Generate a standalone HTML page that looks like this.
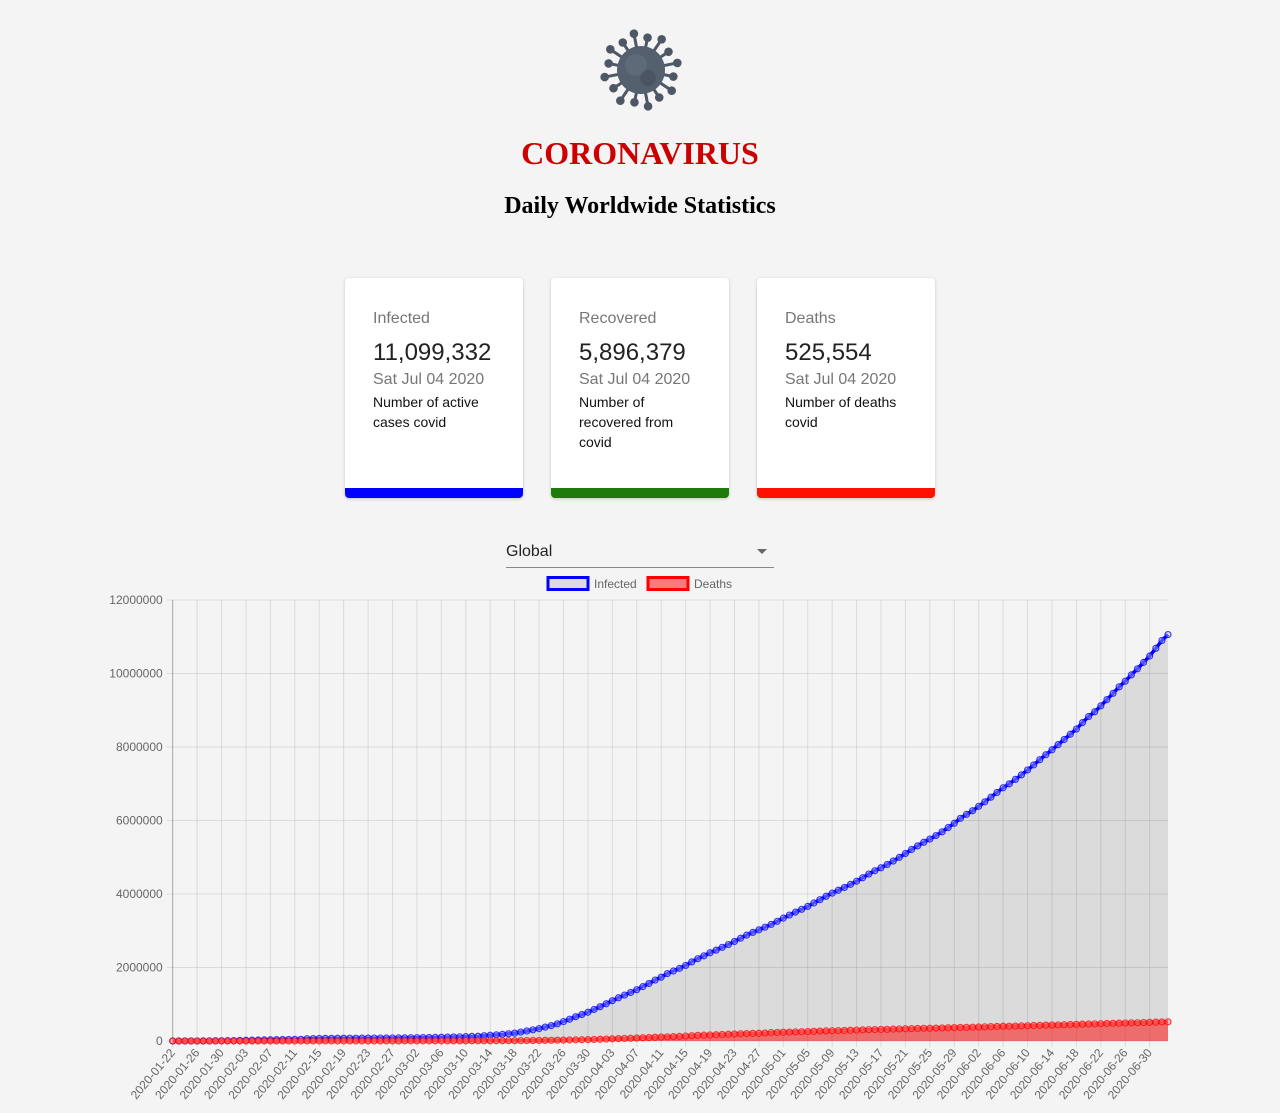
<!DOCTYPE html>
<html><head><meta charset="utf-8">
<style>
body{margin:0;background:#f4f4f4;width:1280px;height:1113px;overflow:hidden;font-family:"Liberation Sans",sans-serif;position:relative}
.abs{position:absolute}
h1{position:absolute;left:0;width:1280px;top:133px;margin:0;text-align:center;font-family:"Liberation Serif",serif;font-weight:bold;font-size:32px;color:#cc0000;line-height:40px}
h2{position:absolute;left:0;width:1280px;top:191px;margin:0;text-align:center;font-family:"Liberation Serif",serif;font-weight:bold;font-size:24px;color:#000;line-height:30px}
.card{position:absolute;top:278px;width:178px;height:220px;background:#fff;border-radius:4px;box-shadow:0 1px 3px rgba(0,0,0,.2);overflow:hidden}
.card .t{position:absolute;left:28px;top:32px;font-size:16px;color:#777}
.card .n{position:absolute;left:28px;top:61px;font-size:24px;color:#222}
.card .d{position:absolute;left:28px;top:93px;font-size:16px;color:#777}
.card .s{position:absolute;left:28px;top:114px;width:125px;font-size:14px;line-height:20px;color:#111}
.card .b{position:absolute;left:0;bottom:0;width:100%;height:10px}
</style></head><body>
<svg class="abs" style="left:598px;top:28px" width="86" height="84" viewBox="0 0 86 84">
<g stroke="#4e5766" stroke-width="3" stroke-linecap="round" fill="#4e5766" id="sp"></g>
<circle cx="43" cy="42" r="24" fill="#55606f"/>
<circle cx="38" cy="37" r="11" fill="#6a7483" opacity=".5"/>
<circle cx="50" cy="50" r="8" fill="#404856" opacity=".5"/>
</svg>
<h1>CORONAVIRUS</h1>
<h2>Daily Worldwide Statistics</h2>

<div class="card" style="left:345px">
<div class="t">Infected</div><div class="n">11,099,332</div><div class="d">Sat Jul 04 2020</div><div class="s">Number of active cases covid</div><div class="b" style="background:#0000ff"></div></div>
<div class="card" style="left:551px">
<div class="t">Recovered</div><div class="n">5,896,379</div><div class="d">Sat Jul 04 2020</div><div class="s">Number of recovered from covid</div><div class="b" style="background:#1e7a0a"></div></div>
<div class="card" style="left:757px">
<div class="t">Deaths</div><div class="n">525,554</div><div class="d">Sat Jul 04 2020</div><div class="s">Number of deaths covid</div><div class="b" style="background:#ff1100"></div></div>

<div class="abs" style="left:506px;top:538px;width:268px;height:29px;border-bottom:1px solid #888">
<span style="position:absolute;left:0;top:5px;font-size:16px;color:#222">Global</span>
<span style="position:absolute;right:7px;top:11px;width:0;height:0;border-left:5px solid transparent;border-right:5px solid transparent;border-top:5px solid #666"></span>
</div>

<svg id="chart" class="abs" style="left:0;top:570px" width="1280" height="543"></svg>

<script>
const sp=document.getElementById('sp');
for(let i=0;i<16;i++){const a=i/16*Math.PI*2+0.2,r1=22,r2=i%2?37:33;
const x1=43+Math.cos(a)*r1,y1=42+Math.sin(a)*r1,x2=43+Math.cos(a)*r2,y2=42+Math.sin(a)*r2;
sp.innerHTML+=`<line x1="${x1}" y1="${y1}" x2="${x2}" y2="${y2}"/><circle cx="${x2}" cy="${y2}" r="2.8"/>`;}
</script>
<script>
const startDate="2020-01-22";
const infected=[555,654,941,1434,2118,2927,5578,6166,8234,9927,
12038,16787,19881,23892,27635,30794,34391,37120,40150,42762,44802,45221,60368,66885,69030,71224,73258,75136,75639,76197,76819,78572,78958,79561,80406,81388,82746,84112,86011,
88369,90306,92840,95120,97886,101801,105847,109821,113590,118620,125875,128352,145205,156101,167454,181574,197102,214821,242570,272208,304507,336953,378231,418045,467653,529591,593291,660706,720117,782365,857487,
932605,1013466,1095917,1176060,1249754,1321481,1396476,1479804,1565278,1657526,1735650,1834721,1904838,1976191,2056054,2152437,2240190,2317759,2401378,2472259,2549123,2624074,2708403,2795989,2881140,2955033,3023722,3097229,3172287,3256846,
3343777,3427343,3506729,3583055,3662691,3755341,3845718,3938064,4024009,4101699,4177502,4261747,4347018,4442163,4542347,4634068,4713620,4801943,4897492,4996472,5102424,5210817,5310362,5407613,5495061,5589626,5691790,5808946,5924275,6059017,6166978,
6265852,6386353,6508635,6632985,6764071,6891031,6997230,7118523,7242235,7375433,7512442,7654725,7790735,7924156,8063990,8205081,8347121,8489232,8664001,8829042,8958690,9120111,9290101,9461493,9637071,9790993,9961962,10127838,10302867,10475816,
10684567,10898000,11060000];
const deaths=[17,18,26,42,56,82,131,133,171,213,
259,362,426,492,564,634,719,806,906,1013,1113,1118,1371,1523,1666,1770,1868,2007,2122,2247,2251,2458,2469,2629,2708,2770,2814,2872,2941,
2996,3085,3160,3254,3348,3460,3558,3802,3988,4262,4615,4720,5404,5819,6440,7126,7905,8733,9867,11299,13016,14623,16497,18615,21181,23970,27198,30652,33925,37582,42107,
46809,53190,58787,64606,69374,74565,81865,88338,95455,102525,108502,114090,119481,125983,134177,143800,153822,159510,165044,169985,176583,183027,190858,197159,202846,206544,211167,217153,227638,233388,
238650,243808,247470,251537,257239,263831,269567,274898,279311,282709,286330,291942,297197,302418,307666,311781,315185,318481,323286,328115,332924,338160,342097,345059,346232,350453,355629,360308,364866,369126,372035,
375543,380249,385947,391136,396917,400857,403619,407067,411764,416779,421968,426796,431176,434446,437750,443395,448576,453886,458447,462791,467041,470639,475853,480760,485618,492174,494902,498129,501771,507521,
512713,518000,522000];
const yTicks=[0,2000000,4000000,6000000,8000000,10000000,12000000];
const labels=infected.map((_,i)=>{const d=new Date(Date.UTC(2020,0,22+i));return d.toISOString().slice(0,10);});

const svg=document.getElementById('chart');const NS='http://www.w3.org/2000/svg';
const L=172.7,R=1168,T=30,B=471;
const xS=i=>L+(R-L)*i/(infected.length-1);
const yS=v=>B-(B-T)*v/12000000;
function el(tag,attrs,parent){const e=document.createElementNS(NS,tag);for(const k in attrs)e.setAttribute(k,attrs[k]);(parent||svg).appendChild(e);return e;}
yTicks.forEach(v=>{const g=el('line',{x1:L-6,x2:R,y1:yS(v),y2:yS(v),stroke:'rgba(0,0,0,0.1)'});


const t=el('text',{x:L-10,y:yS(v)+4,'text-anchor':'end','font-size':'12',fill:'#666','font-family':'Liberation Sans, sans-serif'});t.textContent=v;

});
for(let i=0;i<labels.length;i+=4){const x=xS(i);
const g=el('line',{x1:x,x2:x,y1:T,y2:B+6,stroke:'rgba(0,0,0,0.1)'});


const t=el('text',{x:x+3,y:B+12,'text-anchor':'end','font-size':'12',fill:'#666','font-family':'Liberation Sans, sans-serif',transform:`rotate(-50 ${x+3} ${B+12})`});t.textContent=labels[i];

}
el('line',{x1:L,x2:L,y1:T,y2:B,stroke:'rgba(0,0,0,0.25)'});
function series(data,fill,stroke,ptFill,name){
 let d='M'+xS(0)+','+yS(data[0]);data.forEach((v,i)=>{if(i)d+=' L'+xS(i).toFixed(2)+','+yS(v).toFixed(2);});
 const a=el('path',{d:d+` L${xS(data.length-1)},${B} L${xS(0)},${B} Z`,fill:fill});
 
 
 const l=el('path',{d:d,fill:'none',stroke:stroke,'stroke-width':3.5});
 
 
 data.forEach((v,i)=>{const c=el('circle',{cx:xS(i),cy:yS(v),r:3,fill:ptFill,stroke:stroke,'stroke-opacity':0.75,'stroke-width':1.2});
 
 });
}
series(infected,'rgba(0,0,0,0.1)','#0000ff','rgba(200,200,255,0.4)','infected');
series(deaths,'rgba(255,0,0,0.5)','#ff0000','rgba(255,150,150,0.5)','deaths');
const lg=el('g',{});


const r1=el('rect',{x:548,y:7.5,width:40,height:12,fill:'#dcdcdc',stroke:'#0000ff','stroke-width':3},lg);


const t1=el('text',{x:594,y:18,'font-size':'12',fill:'#666','font-family':'Liberation Sans, sans-serif'},lg);t1.textContent='Infected';


const r2=el('rect',{x:648,y:7.5,width:40,height:12,fill:'#fa7b7b',stroke:'#ff0000','stroke-width':3},lg);


const t2=el('text',{x:694,y:18,'font-size':'12',fill:'#666','font-family':'Liberation Sans, sans-serif'},lg);t2.textContent='Deaths';


</script>
</body></html>
